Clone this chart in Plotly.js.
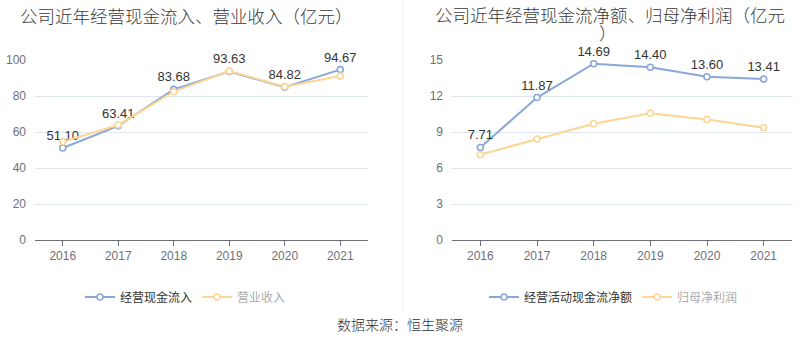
<!DOCTYPE html>
<html>
<head>
<meta charset="utf-8">
<script src="https://cdn.plot.ly/plotly-3.0.1.min.js"></script>
<style>html,body{margin:0;padding:0;background:#fff;}#chart{width:800px;height:358px;}</style>
</head>
<body>
<div id="chart"></div>
<script>
const years = ['2016', '2017', '2018', '2019', '2020', '2021'];
const cashInflow = [51.10, 63.41, 83.68, 93.63, 84.82, 94.67];
const revenue = [54.6, 63.9, 82.4, 93.9, 85.2, 91.1];
const netCashFlow = [7.71, 11.87, 14.69, 14.40, 13.60, 13.41];
const netProfit = [7.11, 8.42, 9.69, 10.56, 10.05, 9.36];
const leftTicks = [0, 20, 40, 60, 80, 100];
const rightTicks = [0, 3, 6, 9, 12, 15];

const BLUE = '#8aa7da';
const YELLOW = '#fdd594';
const FONT = 'Liberation Sans, Noto Sans CJK SC, sans-serif';
const CJK = 'Noto Sans CJK SC, sans-serif';

function series(x, y, name, color, xa, ya, legend, showText) {
  return {
    x: x, y: y, name: name, type: 'scatter',
    mode: showText ? 'lines+markers+text' : 'lines+markers',
    xaxis: xa, yaxis: ya, legend: legend,
    line: {color: color, width: 2},
    marker: {symbol: 'circle', size: 6, color: '#ffffff', line: {color: color, width: 1.6}},
    text: showText ? y.map(v => v.toFixed(2)) : undefined,
    textposition: 'top center',
    textfont: {family: FONT, size: 13, color: '#333333'},
    hoverinfo: 'x+y', cliponaxis: false
  };
}

const data = [
  series(years, cashInflow, '经营现金流入', BLUE, 'x', 'y', 'legend', true),
  series(years, revenue, '<span style="color:#aaaaaa">营业收入</span>', YELLOW, 'x', 'y', 'legend', false),
  series(years, netCashFlow, '经营活动现金流净额', BLUE, 'x2', 'y2', 'legend2', true),
  series(years, netProfit, '<span style="color:#aaaaaa">归母净利润</span>', YELLOW, 'x2', 'y2', 'legend2', false)
];

const W = 800, H = 358;
const yDom = [(H - 240) / H, (H - 60) / H];
const xAxisCommon = {
  type: 'category', range: [-0.5, 5.5], showgrid: false, zeroline: false,
  showline: true, linecolor: '#6e7079', linewidth: 1,
  ticks: 'outside', ticklen: 5, tickcolor: '#6e7079',
  tickfont: {family: FONT, size: 12, color: '#6e7079'}, fixedrange: true
};
const yAxisCommon = {
  showgrid: true, gridcolor: '#e0e6f1', gridwidth: 1, zeroline: false,
  showline: false, ticks: '', ticklabelstandoff: 8,
  tickfont: {family: FONT, size: 12, color: '#6e7079'}, fixedrange: true, domain: yDom
};

const legendCommon = {
  orientation: 'h', xanchor: 'left', yanchor: 'middle',
  font: {family: CJK, size: 12, color: '#333333'},
  bgcolor: 'rgba(0,0,0,0)', itemwidth: 30, itemclick: false, itemdoubleclick: false,
  tracegroupgap: 0, traceorder: 'normal'
};

const layout = {
  width: W, height: H,
  margin: {l: 0, r: 0, t: 0, b: 0},
  paper_bgcolor: '#ffffff', plot_bgcolor: '#ffffff',
  showlegend: true,
  xaxis: Object.assign({}, xAxisCommon, {domain: [35 / W, 368 / W], anchor: 'y'}),
  yaxis: Object.assign({}, yAxisCommon, {range: [0, 100], tickvals: leftTicks, anchor: 'x'}),
  xaxis2: Object.assign({}, xAxisCommon, {domain: [452 / W, 792 / W], anchor: 'y2'}),
  yaxis2: Object.assign({}, yAxisCommon, {range: [0, 15], tickvals: rightTicks, anchor: 'x2'}),
  legend: Object.assign({}, legendCommon, {x: 80 / W, y: (H - 297) / H}),
  legend2: Object.assign({}, legendCommon, {x: 484 / W, y: (H - 297) / H}),
  shapes: [
    {type: 'line', xref: 'paper', yref: 'paper', x0: 403 / W, x1: 403 / W, y0: (H - 312) / H, y1: 1,
     line: {color: '#eeeeee', width: 1}}
  ],
  annotations: [
    {text: '公司近年经营现金流入、营业收入（亿元）', xref: 'paper', yref: 'paper',
     x: 18 / W, y: (H - 15) / H, xanchor: 'left', yanchor: 'middle', showarrow: false,
     font: {family: CJK, size: 17.5, color: '#3a3a3a', weight: 300}},
    {text: '公司近年经营现金流净额、归母净利润（亿元', xref: 'paper', yref: 'paper',
     x: 433 / W, y: (H - 14) / H, xanchor: 'left', yanchor: 'middle', showarrow: false,
     font: {family: CJK, size: 17.5, color: '#3a3a3a', weight: 300}},
    {text: '）', xref: 'paper', yref: 'paper',
     x: 608 / W, y: (H - 32) / H, xanchor: 'center', yanchor: 'middle', showarrow: false,
     font: {family: CJK, size: 17.5, color: '#3a3a3a', weight: 300}},
    {text: '数据来源：恒生聚源', xref: 'paper', yref: 'paper',
     x: 400 / W, y: (H - 324) / H, xanchor: 'center', yanchor: 'middle', showarrow: false,
     font: {family: CJK, size: 14, color: '#333333', weight: 300}}
  ]
};

Plotly.newPlot('chart', data, layout, {displayModeBar: false, staticPlot: true});
</script>
</body>
</html>
